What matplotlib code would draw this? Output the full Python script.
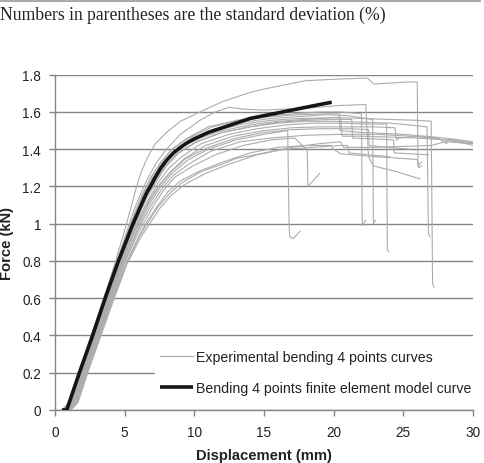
import matplotlib
matplotlib.use("Agg")
import matplotlib.pyplot as plt
from matplotlib.lines import Line2D

# ---------------- data ----------------
x_ticks = [0, 5, 10, 15, 20, 25, 30]
y_ticks = [0, 0.2, 0.4, 0.6, 0.8, 1.0, 1.2, 1.4, 1.6, 1.8]
y_tick_labels = ["0", "0.2", "0.4", "0.6", "0.8", "1", "1.2", "1.4", "1.6", "1.8"]

header_text = "Numbers in parentheses are the standard deviation (%)"
x_label = "Displacement (mm)"
y_label = "Force (kN)"
exp_label = "Experimental bending 4 points curves"
fe_label = "Bending 4 points finite element model curve"

# finite element model curve
fe_x = [0.5, 0.84, 1.75, 2.7, 3.6, 4.55, 5.6, 5.95, 6.3, 6.6, 6.85, 7.2, 7.6, 8.0, 8.5, 9.0,
        9.5, 10.0, 11.0, 12.0, 13.0, 14.0, 15.0, 16.0, 17.0, 18.0, 19.0, 19.86]
fe_y = [0.0, 0.0, 0.2, 0.4, 0.6, 0.8, 1.0, 1.06, 1.12, 1.17, 1.2, 1.25, 1.3, 1.34, 1.38, 1.41,
        1.435, 1.455, 1.49, 1.515, 1.54, 1.565, 1.58, 1.595, 1.61, 1.625, 1.64, 1.652]

# experimental curves
exp01_x = [0.5, 1.0, 1.7, 2.6, 3.5, 4.35, 5.1, 5.5, 5.86, 6.2, 6.6, 7.2, 8.0, 9.0, 10.4, 12.0,
           14.0, 15.0, 18.0, 20.5, 22.4, 22.9, 24.0, 25.5, 26.0, 26.05, 26.3]
exp01_y = [0.0, 0.04, 0.2, 0.4, 0.6, 0.8, 0.99, 1.1, 1.2, 1.28, 1.35, 1.43, 1.49, 1.55, 1.6,
           1.655, 1.705, 1.723, 1.768, 1.777, 1.782, 1.75, 1.755, 1.762, 1.76, 1.31, 1.33]

exp02_x = [0.55, 1.05, 1.75, 2.65, 3.55, 4.45, 5.25, 5.7, 6.2, 6.7, 7.3, 8.0, 9.0, 10.5, 11.5,
           12.5, 13.5, 15.0, 18.0, 20.5, 22.3, 22.5, 22.85, 24.5, 26.2]
exp02_y = [0.0, 0.04, 0.2, 0.4, 0.6, 0.8, 0.98, 1.08, 1.17, 1.25, 1.33, 1.4, 1.48, 1.56, 1.6,
           1.625, 1.615, 1.61, 1.62, 1.635, 1.64, 1.36, 1.31, 1.28, 1.24]

exp03_x = [0.6, 1.1, 1.8, 2.7, 3.6, 4.5, 5.35, 5.8, 6.3, 6.9, 7.6, 8.4, 9.5, 11.0, 13.0, 15.0,
           17.0, 19.0, 20.5, 22.0, 22.05, 22.3]
exp03_y = [0.0, 0.04, 0.2, 0.4, 0.6, 0.8, 0.98, 1.07, 1.16, 1.25, 1.33, 1.4, 1.46, 1.52, 1.555,
           1.575, 1.59, 1.6, 1.6, 1.59, 0.99, 1.02]

exp04_x = [0.65, 1.15, 1.85, 2.8, 3.75, 4.65, 5.45, 5.9, 6.4, 7.0, 7.7, 8.6, 9.8, 11.5, 13.5,
           15.5, 17.5, 19.5, 21.0, 22.8, 22.85, 23.0]
exp04_y = [0.0, 0.04, 0.2, 0.4, 0.6, 0.8, 0.97, 1.06, 1.15, 1.24, 1.32, 1.39, 1.46, 1.51, 1.545,
           1.565, 1.575, 1.585, 1.58, 1.56, 1.0, 1.02]

exp05_x = [0.7, 1.2, 1.9, 2.85, 3.8, 4.7, 5.5, 6.0, 6.5, 7.1, 7.8, 8.7, 10.0, 12.0, 14.0, 16.0,
           18.0, 20.0, 22.0, 24.0, 26.0, 27.0, 27.1, 27.2]
exp05_y = [0.0, 0.04, 0.2, 0.4, 0.6, 0.8, 0.97, 1.06, 1.15, 1.24, 1.32, 1.39, 1.45, 1.5, 1.53,
           1.55, 1.56, 1.57, 1.565, 1.56, 1.555, 1.55, 0.68, 0.66]

exp06_x = [0.75, 1.25, 1.95, 2.9, 3.85, 4.75, 5.6, 6.1, 6.6, 7.3, 8.0, 8.9, 10.2, 12.0, 14.0,
           16.0, 18.0, 20.0, 22.0, 24.0, 25.5, 26.7, 26.8, 26.9]
exp06_y = [0.0, 0.04, 0.2, 0.4, 0.6, 0.8, 0.97, 1.06, 1.14, 1.23, 1.31, 1.38, 1.44, 1.49, 1.52,
           1.54, 1.55, 1.55, 1.545, 1.54, 1.53, 1.52, 0.95, 0.93]

exp07_x = [0.8, 1.3, 2.0, 2.95, 3.9, 4.8, 5.65, 6.15, 6.7, 7.4, 8.2, 9.1, 10.5, 12.5, 14.5,
           16.5, 18.5, 20.5, 22.5, 23.8, 23.85, 23.95]
exp07_y = [0.0, 0.04, 0.2, 0.4, 0.6, 0.8, 0.96, 1.05, 1.13, 1.22, 1.3, 1.36, 1.43, 1.48, 1.51,
           1.53, 1.54, 1.54, 1.535, 1.535, 0.86, 0.85]

exp08_x = [0.85, 1.35, 2.05, 3.0, 3.95, 4.85, 5.7, 6.25, 6.8, 7.5, 8.3, 9.3, 10.8, 12.8, 15.0,
           17.0, 19.0, 21.0, 23.0, 24.4, 24.5, 24.7, 26.0, 28.0, 29.5, 30.0]
exp08_y = [0.0, 0.04, 0.2, 0.4, 0.6, 0.8, 0.96, 1.05, 1.13, 1.21, 1.28, 1.35, 1.42, 1.47, 1.5,
           1.515, 1.52, 1.52, 1.52, 1.515, 1.45, 1.46, 1.47, 1.45, 1.43, 1.42]

exp09_x = [0.9, 1.4, 2.1, 3.05, 4.0, 4.9, 5.8, 6.35, 6.9, 7.6, 8.4, 9.5, 11.0, 13.0, 15.0,
           16.7, 16.8, 16.85, 17.1, 17.6]
exp09_y = [0.0, 0.04, 0.2, 0.4, 0.6, 0.79, 0.95, 1.04, 1.12, 1.2, 1.27, 1.34, 1.4, 1.45, 1.48,
           1.5, 0.99, 0.93, 0.92, 0.96]

exp10_x = [0.95, 1.45, 2.15, 3.1, 4.05, 4.95, 5.85, 6.4, 7.0, 7.7, 8.5, 9.6, 11.2, 13.3, 15.5,
           18.0, 20.5, 23.0, 25.5, 27.5, 28.1, 28.3, 29.0, 30.0]
exp10_y = [0.0, 0.04, 0.2, 0.4, 0.6, 0.79, 0.95, 1.03, 1.11, 1.19, 1.26, 1.32, 1.39, 1.44, 1.46,
           1.475, 1.48, 1.48, 1.47, 1.46, 1.43, 1.455, 1.445, 1.43]

exp11_x = [1.0, 1.5, 2.2, 3.15, 4.1, 5.0, 5.9, 6.5, 7.1, 7.8, 8.6, 9.9, 11.5, 13.5, 15.5, 17.2,
           17.9, 18.1, 18.15, 19.0]
exp11_y = [0.0, 0.04, 0.2, 0.4, 0.6, 0.79, 0.94, 1.02, 1.1, 1.18, 1.25, 1.31, 1.37, 1.42, 1.45,
           1.46, 1.41, 1.4, 1.2, 1.27]

exp12_x = [1.05, 1.55, 2.25, 3.2, 4.15, 5.05, 6.0, 6.6, 7.3, 8.1, 9.0, 10.3, 12.0, 14.0, 16.0,
           18.0, 19.8, 20.0, 20.5, 23.0, 26.0, 26.1, 26.3]
exp12_y = [0.0, 0.04, 0.2, 0.4, 0.6, 0.78, 0.93, 1.01, 1.09, 1.17, 1.23, 1.28, 1.33, 1.38, 1.41,
           1.42, 1.42, 1.4, 1.375, 1.36, 1.345, 1.3, 1.31]

exp13_x = [0.6, 1.1, 1.8, 2.75, 3.7, 4.6, 5.4, 5.85, 6.35, 6.95, 7.65, 8.5, 9.7, 11.5, 13.5,
           15.5, 17.5, 20.5, 20.6, 22.0, 24.0, 26.0, 28.0, 30.0]
exp13_y = [0.0, 0.04, 0.2, 0.4, 0.6, 0.8, 0.97, 1.06, 1.15, 1.24, 1.32, 1.39, 1.45, 1.5, 1.535,
           1.555, 1.565, 1.57, 1.47, 1.47, 1.465, 1.46, 1.45, 1.435]

exp14_x = [0.7, 1.2, 1.9, 2.85, 3.8, 4.7, 5.55, 6.05, 6.55, 7.2, 7.9, 8.8, 10.1, 12.0, 14.0,
           16.0, 18.0, 20.0, 21.3, 21.35, 23.0, 24.3, 24.35, 26.8]
exp14_y = [0.0, 0.04, 0.2, 0.4, 0.6, 0.8, 0.97, 1.06, 1.14, 1.23, 1.31, 1.38, 1.44, 1.49, 1.52,
           1.545, 1.555, 1.56, 1.56, 1.46, 1.455, 1.45, 1.38, 1.37]

exp15_x = [1.1, 1.6, 2.3, 3.25, 4.2, 5.1, 6.05, 6.7, 7.4, 8.2, 9.1, 10.5, 12.0, 13.0, 15.0,
           17.0, 19.0, 20.5, 20.7, 23.0, 25.0, 27.0, 28.0, 30.0]
exp15_y = [0.0, 0.04, 0.2, 0.4, 0.6, 0.78, 0.93, 1.01, 1.09, 1.16, 1.22, 1.28, 1.32, 1.35, 1.38,
           1.41, 1.43, 1.44, 1.41, 1.41, 1.415, 1.42, 1.44, 1.43]

exp16_x = [0.85, 1.35, 2.05, 3.0, 3.95, 4.85, 5.75, 6.3, 6.85, 7.55, 8.35, 9.4, 11.0, 13.0,
           15.0, 17.0, 19.0, 21.0, 22.5, 22.55, 24.0, 25.5]
exp16_y = [0.0, 0.04, 0.2, 0.4, 0.6, 0.8, 0.96, 1.05, 1.13, 1.21, 1.28, 1.35, 1.41, 1.46, 1.49,
           1.505, 1.51, 1.51, 1.505, 1.42, 1.41, 1.4]

exp17_x = [1.15, 1.65, 2.35, 3.3, 4.25, 5.15, 6.1, 6.8, 7.5, 8.3, 9.3, 10.8, 12.5, 14.5, 16.5,
           18.5, 20.5, 21.0, 21.1, 22.5, 24.0]
exp17_y = [0.0, 0.04, 0.2, 0.4, 0.6, 0.78, 0.92, 1.0, 1.08, 1.15, 1.21, 1.27, 1.32, 1.37, 1.4,
           1.41, 1.42, 1.42, 1.38, 1.37, 1.36]

exp18_x = [0.65, 1.15, 1.85, 2.75, 3.65, 4.55, 5.35, 5.8, 6.3, 6.9, 7.6, 8.4, 9.6, 11.3, 13.3,
           15.5, 17.5, 19.5, 20.4, 20.45, 22.0, 25.0, 28.0, 30.0]
exp18_y = [0.0, 0.04, 0.2, 0.4, 0.6, 0.8, 0.98, 1.07, 1.16, 1.25, 1.33, 1.4, 1.46, 1.52, 1.555,
           1.575, 1.585, 1.59, 1.59, 1.5, 1.49, 1.48, 1.46, 1.44]

exp_curves = [
    (exp01_x, exp01_y), (exp02_x, exp02_y), (exp03_x, exp03_y), (exp04_x, exp04_y),
    (exp05_x, exp05_y), (exp06_x, exp06_y), (exp07_x, exp07_y), (exp08_x, exp08_y),
    (exp09_x, exp09_y), (exp10_x, exp10_y), (exp11_x, exp11_y), (exp12_x, exp12_y),
    (exp13_x, exp13_y), (exp14_x, exp14_y), (exp15_x, exp15_y), (exp16_x, exp16_y),
    (exp17_x, exp17_y), (exp18_x, exp18_y),
]

# ---------------- figure ----------------
plt.rcParams['font.family'] = ['Liberation Sans', 'DejaVu Sans']
W, H = 485, 464
fig = plt.figure(figsize=(W / 100, H / 100), dpi=100)
ax = fig.add_axes([55 / W, 1 - 411 / H, (473 - 55) / W, (411 - 75.7) / H])

grid_c = '#858585'
for i, (xs, ys) in enumerate(exp_curves):
    ax.plot(xs, ys, color='#acacac', lw=0.8, zorder=2, solid_joinstyle='round',
            label=exp_label if i == 0 else None)
ax.plot(fe_x, fe_y, color='#151515', lw=2.6, zorder=3, label=fe_label,
        solid_capstyle='butt', solid_joinstyle='round')

ax.set_xlim(0, 30)
ax.set_ylim(0, 1.8)
ax.set_xticks(x_ticks)
ax.set_yticks(y_ticks)
ax.set_yticklabels(y_tick_labels)
ax.yaxis.grid(True, color=grid_c, lw=1.0, zorder=1)
ax.set_axisbelow(True)
for s in ['top', 'right']:
    ax.spines[s].set_visible(False)
for s in ['left', 'bottom']:
    ax.spines[s].set_color(grid_c)
    ax.spines[s].set_linewidth(1.0)
ax.tick_params(axis='both', colors=grid_c, labelcolor='#222222', labelsize=9.8,
               length=4, width=1.0, direction='out')
ax.tick_params(axis='x', pad=7)
ax.tick_params(axis='y', pad=6)

ax.set_xlabel(x_label, fontsize=10.6, fontweight='bold', color='#222222')
ax.xaxis.set_label_coords(0.5, -(456.5 - 411) / (411 - 75.7))
ax.xaxis.label.set_va('center')
ax.set_ylabel(y_label, fontsize=10.6, fontweight='bold', color='#222222')
ax.yaxis.set_label_coords(-(55 - 7) / (473 - 55), 0.5)
ax.yaxis.label.set_va('center')

leg = ax.legend(loc='center left', bbox_to_anchor=(0.2385, 0.112), frameon=True,
                fontsize=10.2, handlelength=2.3, handletextpad=0.25, labelspacing=1.15,
                borderaxespad=0, borderpad=0.4, fancybox=False)
leg.get_frame().set_facecolor('white')
leg.get_frame().set_edgecolor('white')
leg.get_frame().set_alpha(1.0)
for t in leg.get_texts():
    t.set_color('#222222')

fig.text(0.0, 1 - 15 / H, header_text, family=['Liberation Serif', 'DejaVu Serif'],
         fontsize=12.7, color='#222222', va='center', ha='left')
fig.add_artist(Line2D([0, 0.99], [1 - 1.5 / H, 1 - 1.5 / H], color='#999999', lw=1.2))

fig.savefig('out.png', dpi=100)
